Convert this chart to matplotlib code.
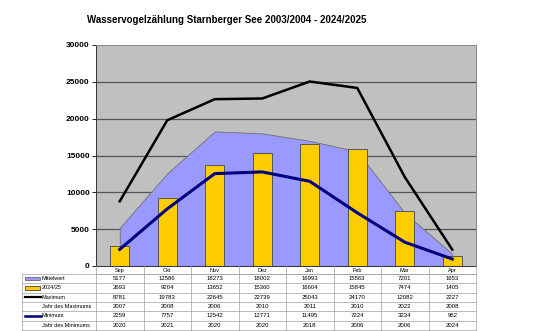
import numpy as np
import matplotlib.pyplot as plt
from matplotlib.patches import Rectangle

plt.rcParams['font.family'] = ['Liberation Sans', 'DejaVu Sans']

monate = ['Sep', 'Okt', 'Nov', 'Dez', 'Jan', 'Feb', 'Mar', 'Apr']
mittelwert = [5177, 12586, 18273, 18002, 16993, 15563, 7201, 1653]
saison = [2693, 9204, 13652, 15360, 16604, 15845, 7474, 1405]
maximum = [8781, 19783, 22645, 22739, 25043, 24170, 12082, 2227]
jahr_max = [2007, 2008, 2006, 2010, 2011, 2010, 2022, 2008]
minimum = [2259, 7757, 12542, 12771, 11495, 7224, 3234, 952]
jahr_min = [2020, 2021, 2020, 2020, 2018, 2006, 2006, 2024]

W, H = 535, 331
fig = plt.figure(figsize=(W / 100, H / 100), dpi=100)

# plot area in pixel coords
px0, px1, py0, py1 = 96, 476, 45, 266
ax = fig.add_axes([px0 / W, 1 - py1 / H, (px1 - px0) / W, (py1 - py0) / H])
ax.set_facecolor('#c0c0c0')

x = np.arange(len(monate))
ax.fill_between(x, mittelwert, color='#9999ff', edgecolor='#707070', linewidth=0.6, zorder=2)
ax.bar(x, saison, width=0.41, color='#ffcc00', edgecolor='#555555', linewidth=0.7, zorder=3)
ax.plot(x, maximum, color='black', linewidth=1.8, zorder=4)
ax.plot(x, minimum, color='#000080', linewidth=2.2, zorder=4)

ax.set_xlim(-0.5, len(monate) - 0.5)
ax.set_ylim(0, 30000)
ax.set_yticks(range(0, 30001, 5000))
ax.set_xticks([])
ax.tick_params(axis='y', labelsize=6, length=3, width=0.6, pad=1.5)
for t in ax.get_yticklabels():
    t.set_fontweight('bold')
for y in range(5000, 30000, 5000):
    ax.axhline(y, color='#555555', linewidth=0.9, zorder=1)
for side in ['top', 'right']:
    ax.spines[side].set_color('#888888')
ax.spines['left'].set_color('#333333')
ax.spines['bottom'].set_color('#333333')
for s in ax.spines.values():
    s.set_linewidth(0.7)

fig.text(227 / W, 1 - 20 / H, 'Wasservogelzählung Starnberger See 2003/2004 - 2024/2025',
         ha='center', va='center', fontsize=7, fontweight='bold')

# data table below the chart, drawn in pixel coords
tab = fig.add_axes([0, 0, 1, 1])
tab.set_xlim(0, W)
tab.set_ylim(H, 0)
tab.axis('off')

lx0 = 22
col_w = (px1 - px0) / len(monate)
row_top = 274
row_h = 9.3
rows = [mittelwert, saison, maximum, jahr_max, minimum, jahr_min]
labels = ['Mittelwert', '2024/25', 'Maximum', 'Jahr des Maximums', 'Minimum', 'Jahr des Minimums']
bottom = row_top + row_h * len(rows)
line_kw = dict(color='#a0a0a0', linewidth=0.5)

# horizontal lines
tab.plot([px0, px1], [row_top, row_top], **line_kw)
for i in range(len(rows) + 1):
    y = row_top + i * row_h
    tab.plot([lx0, px1], [y, y], **line_kw)
# vertical lines
tab.plot([lx0, lx0], [row_top, bottom], **line_kw)
for j in range(len(monate) + 1):
    xx = px0 + j * col_w
    tab.plot([xx, xx], [py1, bottom], **line_kw)

for j, m in enumerate(monate):
    cx = px0 + (j + 0.5) * col_w
    tab.text(cx, (py1 + row_top) / 2 + 0.8, m, ha='center', va='center', fontsize=4)
    for i, r in enumerate(rows):
        tab.text(cx, row_top + (i + 0.5) * row_h, str(r[j]), ha='center', va='center', fontsize=4.3)

# legend keys in the first column
for i, lab in enumerate(labels):
    yc = row_top + (i + 0.5) * row_h
    if i == 0:
        tab.add_patch(Rectangle((25, yc - 1.8), 15, 3.6, facecolor='#9999ff', edgecolor='#555555', linewidth=0.5))
        tab.text(42, yc, lab, ha='left', va='center', fontsize=4)
    elif i == 1:
        tab.add_patch(Rectangle((25, yc - 1.8), 15, 3.6, facecolor='#ffcc00', edgecolor='#222222', linewidth=0.5))
        tab.text(42, yc, lab, ha='left', va='center', fontsize=4)
    elif i == 2:
        tab.plot([25, 41], [yc, yc], color='black', linewidth=1.6)
        tab.text(42, yc, lab, ha='left', va='center', fontsize=4)
    elif i == 4:
        tab.plot([25, 41], [yc, yc], color='#000080', linewidth=1.8)
        tab.text(42, yc, lab, ha='left', va='center', fontsize=4)
    else:
        tab.text(42, yc, lab, ha='left', va='center', fontsize=4)

fig.savefig('out.png', dpi=100)
